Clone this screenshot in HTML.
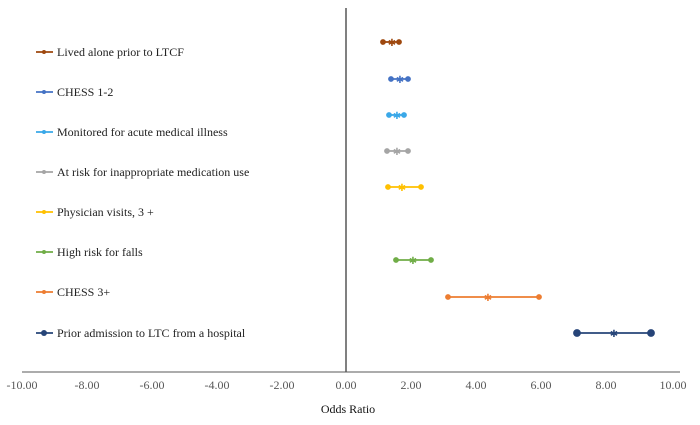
<!DOCTYPE html>
<html><head><style>body{margin:0;background:#fff}svg{display:block}text{font-family:"Liberation Serif",serif}</style></head>
<body>
<svg width="700" height="425" xmlns="http://www.w3.org/2000/svg">
<line x1="346" y1="8" x2="346" y2="372" stroke="#000" stroke-width="1"/>
<line x1="22" y1="372" x2="680" y2="372" stroke="#595959" stroke-width="1"/>
<g font-size="12" fill="#595959" text-anchor="middle">
<text x="22" y="389">-10.00</text><text x="87" y="389">-8.00</text><text x="152" y="389">-6.00</text><text x="217" y="389">-4.00</text><text x="282" y="389">-2.00</text><text x="346" y="389">0.00</text><text x="411" y="389">2.00</text><text x="476" y="389">4.00</text><text x="541" y="389">6.00</text><text x="606" y="389">8.00</text><text x="673" y="389">10.00</text>
</g>
<text x="348" y="413" font-size="12" fill="#111" text-anchor="middle">Odds Ratio</text>
<g stroke-width="1.8">
<g stroke="#9e480e" fill="#9e480e"><line x1="383" y1="42" x2="399" y2="42"/><circle cx="383" cy="42" r="2"/><circle cx="399" cy="42" r="2"/><text x="392" y="46" font-size="10" text-anchor="middle" stroke="none">✱</text></g>
<g stroke="#4472c4" fill="#4472c4"><line x1="391" y1="79" x2="408" y2="79"/><circle cx="391" cy="79" r="2"/><circle cx="408" cy="79" r="2"/><text x="400" y="83" font-size="10" text-anchor="middle" stroke="none">✱</text></g>
<g stroke="#3aa8e8" fill="#3aa8e8"><line x1="389" y1="115" x2="404" y2="115"/><circle cx="389" cy="115" r="2"/><circle cx="404" cy="115" r="2"/><text x="397" y="119" font-size="10" text-anchor="middle" stroke="none">✱</text></g>
<g stroke="#a5a5a5" fill="#a5a5a5"><line x1="387" y1="151" x2="408" y2="151"/><circle cx="387" cy="151" r="2"/><circle cx="408" cy="151" r="2"/><text x="397" y="155" font-size="10" text-anchor="middle" stroke="none">✱</text></g>
<g stroke="#ffc000" fill="#ffc000"><line x1="388" y1="187" x2="421" y2="187"/><circle cx="388" cy="187" r="2"/><circle cx="421" cy="187" r="2"/><text x="402" y="191" font-size="10" text-anchor="middle" stroke="none">✱</text></g>
<g stroke="#70ad47" fill="#70ad47"><line x1="396" y1="260" x2="431" y2="260"/><circle cx="396" cy="260" r="2"/><circle cx="431" cy="260" r="2"/><text x="413" y="264" font-size="10" text-anchor="middle" stroke="none">✱</text></g>
<g stroke="#ed7d31" fill="#ed7d31"><line x1="448" y1="297" x2="539" y2="297"/><circle cx="448" cy="297" r="2"/><circle cx="539" cy="297" r="2"/><text x="488" y="301" font-size="10" text-anchor="middle" stroke="none">✱</text></g>
<g stroke="#264478" fill="#264478"><line x1="577" y1="333" x2="651" y2="333"/><circle cx="577" cy="333" r="3"/><circle cx="651" cy="333" r="3"/><text x="614" y="337" font-size="10" text-anchor="middle" stroke="none">✱</text></g>
</g>
<g font-size="12" fill="#222">
<g stroke-width="1.8">
<line x1="36" y1="52" x2="53" y2="52" stroke="#9e480e"/><circle cx="44" cy="52" r="2" fill="#9e480e"/>
<line x1="36" y1="92" x2="53" y2="92" stroke="#4472c4"/><circle cx="44" cy="92" r="2" fill="#4472c4"/>
<line x1="36" y1="132" x2="53" y2="132" stroke="#3aa8e8"/><circle cx="44" cy="132" r="2" fill="#3aa8e8"/>
<line x1="36" y1="172" x2="53" y2="172" stroke="#a5a5a5"/><circle cx="44" cy="172" r="2" fill="#a5a5a5"/>
<line x1="36" y1="212" x2="53" y2="212" stroke="#ffc000"/><circle cx="44" cy="212" r="2" fill="#ffc000"/>
<line x1="36" y1="252" x2="53" y2="252" stroke="#70ad47"/><circle cx="44" cy="252" r="2" fill="#70ad47"/>
<line x1="36" y1="292" x2="53" y2="292" stroke="#ed7d31"/><circle cx="44" cy="292" r="2" fill="#ed7d31"/>
<line x1="36" y1="333" x2="53" y2="333" stroke="#264478"/><circle cx="44" cy="333" r="3" fill="#264478"/>
</g>
<text x="57" y="56">Lived alone prior to LTCF</text>
<text x="57" y="96">CHESS 1-2</text>
<text x="57" y="136">Monitored for acute medical illness</text>
<text x="57" y="176">At risk for inappropriate medication use</text>
<text x="57" y="216">Physician visits, 3 +</text>
<text x="57" y="256">High risk for falls</text>
<text x="57" y="296">CHESS 3+</text>
<text x="57" y="337">Prior admission to LTC from a hospital</text>
</g>
</svg>
</body></html>
